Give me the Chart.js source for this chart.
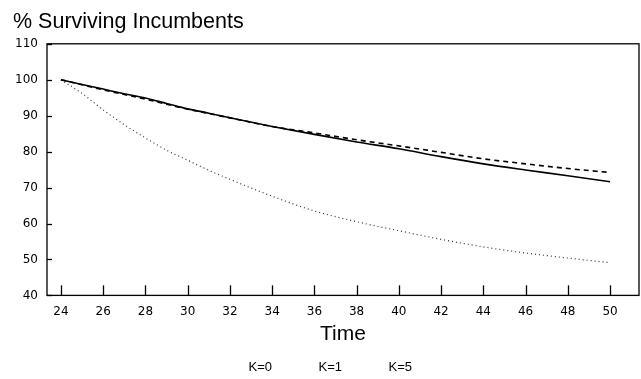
<!DOCTYPE html>
<html>
<head>
<meta charset="utf-8">
<script src="https://cdn.jsdelivr.net/npm/chart.js@4"></script>
<style>
  html, body { margin: 0; padding: 0; background: #fff; }
  #wrap { width: 641px; height: 379px; }
</style>
</head>
<body>
<div id="wrap"><canvas id="myChart"></canvas></div>
<script>
// time points and surviving incumbents (%)
var years = [24, 25, 26, 27, 28, 29, 30, 31, 32, 34, 36, 38, 40, 42, 44, 46, 48, 50];
var k0 = [100, 98.7, 97.4, 96.1, 94.9, 93.4, 91.9, 90.7, 89.4, 87, 84.8, 82.7, 80.8, 78.6, 76.6, 74.9, 73.3, 71.6];
var k1 = [100, 98.6, 97.2, 95.9, 94.6, 93.2, 91.8, 90.6, 89.4, 87, 85.2, 83.3, 81.6, 79.8, 78, 76.6, 75.3, 74.2];
var k5 = [100, 96.2, 91.6, 87.5, 83.8, 80.4, 77.6, 74.8, 72.3, 67.6, 63.5, 60.5, 58, 55.6, 53.5, 51.8, 50.4, 49.1];
var xTicks = [24, 26, 28, 30, 32, 34, 36, 38, 40, 42, 44, 46, 48, 50];
var yTicks = [40, 50, 60, 70, 80, 90, 100, 110];

function pts(vals) {
    return vals.map(function (v, i) { return { x: years[i], y: v }; });
}

// frame + tick marks drawn inward, like the original plot
var innerTicks = {
    id: 'innerTicks',
    afterLayout: function (chart) {
        // nudge the legend a bit left of centre
        chart.legend.left -= 14;
        chart.legend.right -= 14;
    },
    afterDraw: function (chart) {
        var ctx = chart.ctx;
        var a = chart.chartArea;
        var xs = chart.scales.x, ys = chart.scales.y;
        ctx.save();
        ctx.strokeStyle = '#000';
        ctx.lineWidth = 1.3;
        ctx.strokeRect(a.left, a.top, a.right - a.left, a.bottom - a.top);
        xTicks.forEach(function (t) {
            var px = Math.round(xs.getPixelForValue(t)) + 0.5;
            ctx.beginPath();
            ctx.moveTo(px, a.bottom);
            ctx.lineTo(px, a.bottom - 10);
            ctx.stroke();
        });
        yTicks.forEach(function (t) {
            var py = Math.round(ys.getPixelForValue(t)) + 0.5;
            ctx.beginPath();
            ctx.moveTo(a.left, py);
            ctx.lineTo(a.left + 5, py);
            ctx.stroke();
        });
        ctx.restore();
    }
};

var ctx = document.getElementById('myChart').getContext('2d');
var chart = new Chart(ctx, {
    type: 'line',
    data: {
        datasets: [{
            label: 'K=0',
            data: pts(k0),
            borderColor: '#000',
            borderWidth: 1.6
        }, {
            label: 'K=1',
            data: pts(k1),
            borderColor: '#000',
            borderWidth: 1.6,
            borderDash: [5, 4]
        }, {
            label: 'K=5',
            data: pts(k5),
            borderColor: '#333',
            borderWidth: 1.2,
            borderDash: [1, 3]
        }]
    },
    plugins: [innerTicks],
    options: {
        responsive: true,
        maintainAspectRatio: false,
        animation: false,
        elements: { point: { radius: 0 }, line: { cubicInterpolationMode: 'monotone', fill: false } },
        layout: { padding: { left: 13, right: 2, top: 0, bottom: -5 } },
        plugins: {
            title: {
                display: true,
                text: '% Surviving Incumbents',
                align: 'start',
                color: '#000',
                font: { family: 'Liberation Sans', size: 21.5, weight: 'normal' },
                padding: { top: 9, bottom: 9 }
            },
            legend: {
                position: 'bottom',
                labels: {
                    boxWidth: 30,
                    boxHeight: 0,
                    padding: 10,
                    color: '#000',
                    font: { family: 'Liberation Sans', size: 13 },
                    generateLabels: function (c) {
                        return c.data.datasets.map(function (ds, i) {
                            return {
                                text: ds.label,
                                fillStyle: 'rgba(0,0,0,0)',
                                strokeStyle: 'rgba(0,0,0,0)',
                                lineWidth: 0,
                                fontColor: '#000',
                                datasetIndex: i
                            };
                        });
                    }
                }
            },
            tooltip: { enabled: false }
        },
        scales: {
            x: {
                type: 'linear',
                min: 23.34,
                max: 51.37,
                afterBuildTicks: function (s) {
                    s.ticks = xTicks.map(function (v) { return { value: v }; });
                },
                grid: { display: false, drawTicks: false },
                border: { display: false },
                ticks: {
                    color: '#000',
                    padding: 9,
                    font: { family: 'DejaVu Sans', size: 12 },
                    maxRotation: 0
                },
                title: {
                    display: true,
                    text: 'Time',
                    color: '#000',
                    font: { family: 'Liberation Sans', size: 21 },
                    padding: { top: -6, bottom: 4 }
                }
            },
            y: {
                min: 40,
                max: 110,
                afterBuildTicks: function (s) {
                    s.ticks = yTicks.map(function (v) { return { value: v }; });
                },
                afterFit: function (s) { s.width = 34; },
                grid: { display: false, drawTicks: false },
                border: { display: false },
                ticks: {
                    color: '#000',
                    padding: 9,
                    font: { family: 'DejaVu Sans', size: 12 }
                }
            }
        }
    }
});
</script>
</body>
</html>
